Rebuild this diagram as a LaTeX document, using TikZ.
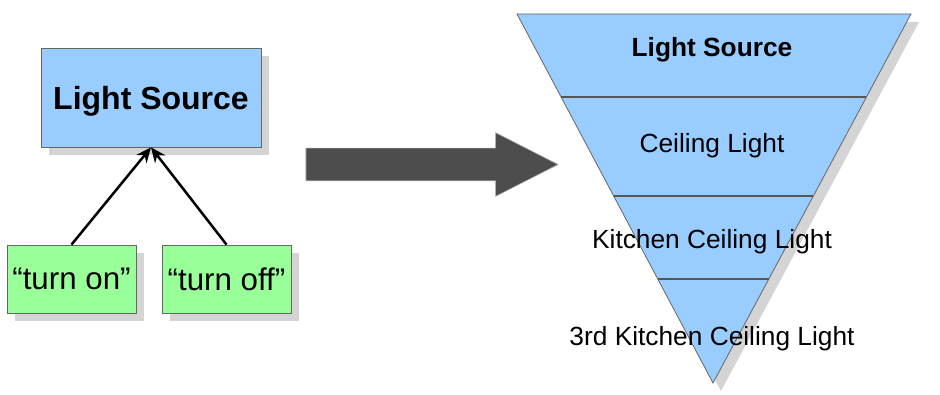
\documentclass[tikz,border=0pt]{standalone}
\usepackage{fontspec}
\setmainfont{Liberation Sans}
\usetikzlibrary{shapes.arrows,shadows,calc,arrows.meta}
\definecolor{skyfill}{HTML}{99CCFF}
\definecolor{greenfill}{HTML}{99FF99}
\definecolor{bandline}{HTML}{555555}
\definecolor{bigarrow}{HTML}{4D4D4D}

\begin{document}
\begin{tikzpicture}[x=1pt,y=-1pt,line join=miter]
	\tikzstyle{every node}=[inner sep=0pt,text=black]
	\tikzstyle{boxed} =[rectangle,draw=gray!80!black,line width=0.8pt,
		drop shadow={shadow xshift=8pt,shadow yshift=-8pt,fill=black!17,opacity=1}]
	\tikzstyle{main} =[boxed,fill=skyfill,minimum width=220pt,minimum height=99pt,
		text depth=0pt,font=\fontsize{32}{38}\selectfont\bfseries]
	\tikzstyle{event} =[boxed,fill=greenfill,minimum width=129pt,minimum height=68pt,
		font=\fontsize{31.3}{37}\selectfont]
	\tikzstyle{level} =[text depth=0pt,font=\fontsize{26.3}{31}\selectfont]
	\tikzstyle{link} =[line width=2.5pt,-{Stealth[length=15pt,width=13pt]}]
	\useasboundingbox (0,0) rectangle (940,395);

	% left side: class and its events
	\node (LS)[main] at (151,97.5) {Light Source};
	\node (ON)[event] at (71.5,279) {“turn on”};
	\node (OFF)[event] at (226.5,279) {“turn off”};
	\draw[link] (ON.north) to (LS.south);
	\draw[link] (OFF.north) to (LS.south);

	% big arrow in the middle
	\node (GO)[single arrow,fill=bigarrow,draw=gray!70,line width=0.6pt,
		inner xsep=0pt,inner ysep=16pt,minimum height=252pt,
		single arrow head extend=15.5pt,single arrow tip angle=54] at (416,164.5) {};

	% right side: inverted pyramid
	\coordinate (TL) at (517,14);
	\coordinate (TR) at (911,14);
	\coordinate (BT) at (713,383);
	\fill[black!17] ([shift={(8,8)}]TL) -- ([shift={(8,8)}]TR) -- ([shift={(8,8)}]BT) -- cycle;
	\draw[fill=skyfill,draw=gray!80!black,line width=0.8pt] (TL) -- (TR) -- (BT) -- cycle;
	\foreach \y/\n in {97/A,196/B,279/C}
		\draw[bandline,line width=2.2pt]
			($(TL)!{(\y-14)/369}!(BT)$) coordinate (\n L) -- ($(TR)!{(\y-14)/369}!(BT)$) coordinate (\n R);

	\node (P1)[level,font=\fontsize{26.3}{31}\selectfont\bfseries] at (712,46.5) {Light Source};
	\node (P2)[level] at (712,142.5) {Ceiling Light};
	\node (P3)[level] at (712,238.5) {Kitchen Ceiling Light};
	\node (P4)[level] at (712,335.5) {3rd Kitchen Ceiling Light};
\end{tikzpicture}
\end{document}
